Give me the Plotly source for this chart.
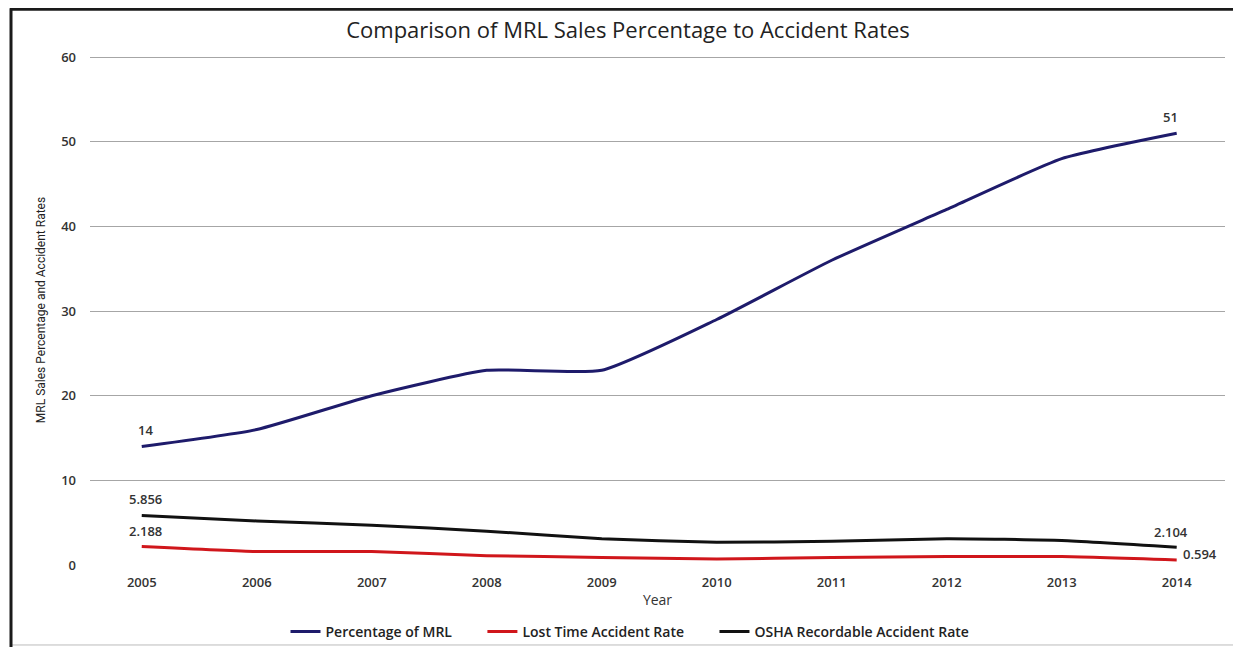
import plotly.graph_objects as go

years = [2005, 2006, 2007, 2008, 2009, 2010, 2011, 2012, 2013, 2014]
mrl_pct = [14, 16, 20, 23, 23, 29, 36, 42, 48, 51]
lost_time = [2.188, 1.6, 1.6, 1.1, 0.9, 0.7, 0.9, 1.0, 1.0, 0.594]
osha = [5.856, 5.2, 4.7, 4.0, 3.1, 2.7, 2.8, 3.1, 2.9, 2.104]
y_ticks = [0, 10, 20, 30, 40, 50, 60]

LBL_FONT = dict(family="Open Sans", size=13, color="#333333", weight=600)
PAD = "\u00a0" * 7

fig = go.Figure()
fig.add_trace(go.Scatter(
    x=years, y=mrl_pct, name="Percentage of MRL" + PAD, mode="lines",
    line=dict(color="#1E1B6B", width=3, shape="spline", smoothing=0.5)))
fig.add_trace(go.Scatter(
    x=years, y=lost_time, name="Lost Time Accident Rate" + PAD, mode="lines",
    line=dict(color="#D0161B", width=3, shape="spline", smoothing=0.5)))
fig.add_trace(go.Scatter(
    x=years, y=osha, name="OSHA Recordable Accident Rate", mode="lines",
    line=dict(color="#111111", width=3, shape="spline", smoothing=0.5)))

# data labels on first and last points
annotations = []
label_specs = [
    (mrl_pct, 0, dict(xshift=4, yshift=16, xanchor="center")),
    (mrl_pct, -1, dict(xshift=-6, yshift=16, xanchor="center")),
    (osha, 0, dict(xshift=4, yshift=16, xanchor="center")),
    (osha, -1, dict(xshift=-6, yshift=15, xanchor="center")),
    (lost_time, 0, dict(xshift=4, yshift=15, xanchor="center")),
    (lost_time, -1, dict(xshift=4, yshift=6, xanchor="left")),
]
for series, idx, opts in label_specs:
    annotations.append(dict(
        x=years[idx], y=series[idx], xref="x", yref="y",
        text=f"{series[idx]:g}", showarrow=False, yanchor="middle",
        font=LBL_FONT, **opts))

Y_TOP = 60.25
PLOT_H = 508 * Y_TOP / 60  # pixels, same scale as 0..60 over 508 px

def px_x(px):
    return (px - 90) / 1135

def px_y(py):
    return (565 - py) / PLOT_H

W, H = 1233, 639
T = H - 82 - PLOT_H

fig.update_layout(
    width=W, height=H,
    margin=dict(l=82, r=16, t=T, b=82, autoexpand=False),
    paper_bgcolor="white", plot_bgcolor="white",
    title=dict(text="Comparison of MRL Sales Percentage to Accident Rates",
               x=(628 - 8) / W, xref="container", xanchor="center",
               y=1 - (30 - 8) / H, yref="container", yanchor="middle",
               font=dict(family="Open Sans", size=22, color="#222222")),
    xaxis=dict(range=[2004.55, 2014.42], tickvals=years,
               ticktext=[str(y) for y in years], showgrid=False,
               zeroline=False, showline=False, ticks="",
               ticklabelstandoff=8, automargin=False,
               tickfont=dict(family="Open Sans", size=13, color="#333333", weight=600),
               title=dict(text="Year", standoff=5,
                          font=dict(family="Open Sans", size=14, color="#333333"))),
    yaxis=dict(range=[0, Y_TOP], tickvals=y_ticks, showgrid=True,
               gridcolor="#A6A6A6", gridwidth=1, zeroline=False,
               showline=False, ticks="", ticklabelstandoff=13, automargin=False,
               tickfont=dict(family="Open Sans", size=13, color="#333333", weight=600),
               title=dict(text="MRL Sales Percentage and Accident Rates", standoff=12,
                          font=dict(family="Roboto", size=12, color="#222222"))),
    legend=dict(orientation="h", x=px_x(630), xanchor="center", y=px_y(632),
                yanchor="middle", xref="paper", yref="paper",
                font=dict(family="Open Sans", size=14, color="#222222", weight=600),
                itemwidth=30, tracegroupgap=0, bgcolor="rgba(0,0,0,0)"),
    showlegend=True,
    annotations=annotations,
)

shapes = [
    dict(type="rect", xref="paper", yref="paper",
         x0=px_x(11), x1=px_x(1235), y0=px_y(645), y1=px_y(9),
         line=dict(color="#BBBBBB", width=1), layer="below"),
    dict(type="line", xref="paper", yref="paper",
         x0=px_x(10), x1=px_x(1236), y0=px_y(9), y1=px_y(9),
         line=dict(color="#1A1A1A", width=3)),
    dict(type="line", xref="paper", yref="paper",
         x0=px_x(11), x1=px_x(11), y0=px_y(647), y1=px_y(8),
         line=dict(color="#1A1A1A", width=3)),
]
fig.update_layout(shapes=shapes)

fig.write_html("out.html")
